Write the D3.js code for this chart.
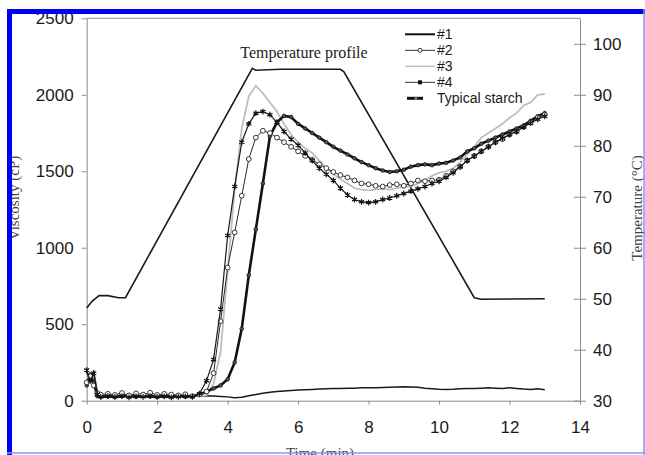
<!DOCTYPE html>
<html>
<head>
<meta charset="utf-8">
<script src="https://cdn.jsdelivr.net/npm/d3@7"></script>
<style>
body { margin: 0; background: #fff; }
svg { display: block; }
</style>
</head>
<body>
<svg id="chart" width="645" height="455"></svg>
<script>
// sample times (min) shared by the viscosity curves
var times = [0,0.1,0.2,0.3,0.4,
    0.6,0.8,1,1.2,1.4,1.6,1.8,2,2.2,2.4,2.6,2.8,3,
    3.2,3.4,3.6,3.8,4,4.2,4.4,4.6,4.8,5,
    5.2,5.4,5.6,5.8,6,6.2,6.4,6.6,6.8,7,
    7.2,7.4,7.6,7.8,8,8.2,8.4,8.6,8.8,9,
    9.2,9.4,9.6,9.8,10,10.2,10.4,10.6,10.8,11,
    11.2,11.4,11.6,11.8,12,12.2,12.4,12.6,12.8,13];

var visc1 = [180,150,190,60,35,
    30,32,30,28,30,32,30,28,30,30,28,30,30,
    30,32,30,28,25,20,22,32,40,48,
    55,60,64,67,70,72,74,76,78,80,
    80,82,82,84,85,84,86,88,90,92,
    90,88,82,78,75,74,75,78,80,80,
    82,84,82,80,85,80,76,74,78,72];

var visc2 = [120,160,100,50,40,
    45,38,50,35,48,40,52,38,45,40,35,42,30,
    40,60,180,520,870,1100,1340,1580,1720,1765,
    1750,1720,1690,1660,1630,1600,1575,1545,1520,1495,
    1475,1460,1440,1420,1415,1405,1400,1410,1415,1405,
    1420,1440,1435,1440,1445,1470,1500,1530,1570,1600,
    1630,1660,1690,1710,1740,1760,1790,1820,1850,1870];

var visc3 = [150,120,160,35,30,
    28,32,30,26,30,28,32,30,28,30,26,30,28,
    30,35,110,320,850,1380,1780,1990,2060,2010,
    1950,1890,1810,1740,1690,1650,1620,1570,1520,1480,
    1450,1420,1390,1380,1375,1380,1385,1380,1390,1400,
    1400,1420,1440,1470,1490,1500,1520,1560,1610,1660,
    1720,1750,1780,1810,1850,1880,1930,1950,2000,2005];

var visc4 = [200,130,180,40,25,
    30,25,30,22,28,25,30,25,28,22,25,28,25,
    45,130,270,600,1080,1400,1690,1810,1880,1890,
    1870,1820,1760,1710,1670,1620,1570,1520,1480,1440,
    1390,1345,1315,1300,1295,1300,1315,1325,1340,1355,
    1370,1385,1400,1420,1435,1460,1490,1530,1570,1600,
    1630,1660,1690,1715,1740,1760,1790,1815,1840,1860];

var viscStarch = [100,170,120,30,25,
    28,25,30,32,26,30,28,25,30,28,32,26,30,
    40,60,80,100,140,250,470,820,1120,1420,
    1730,1820,1862,1855,1810,1780,1750,1720,1690,1660,
    1635,1610,1585,1560,1540,1520,1505,1495,1500,1510,
    1530,1540,1545,1540,1550,1555,1570,1590,1630,1650,
    1680,1700,1720,1740,1760,1780,1800,1830,1860,1880];

// temperature profile (right axis)
var tempTimes = [0,0.15,0.35,0.6,0.9,1.1,4.7,4.8,5.5,7.2,7.3,11.0,11.2,13.0];
var tempValues = [48.2,49.5,50.6,50.6,50.2,50.2,95.2,94.8,95,95,94.5,50.2,49.9,50];

var xTicks = [0,2,4,6,8,10,12,14];
var viscTicks = [0,500,1000,1500,2000,2500];
var tempTicks = [30,40,50,60,70,80,90,100];
var legendNames = ['#1','#2','#3','#4','Typical starch'];

var svg = d3.select("#chart");
var plotLeft = 86.7, plotRight = 580, plotTop = 18.3, plotBottom = 400.7;

var x = d3.scaleLinear().domain([0,14]).range([plotLeft, plotRight]);
var yV = d3.scaleLinear().domain([0,2500]).range([plotBottom, plotTop]);
var yT = d3.scaleLinear().domain([30,105]).range([plotBottom, plotTop]);

svg.append("rect").attr("width", 645).attr("height", 455).attr("fill", "#fff");

// axes
var axisColor = "#8c8c8c";
function styleAxis(g) {
    g.selectAll("path, line").attr("stroke", axisColor).attr("stroke-width", 1);
    g.selectAll("text").attr("fill", "#1a1a1a")
        .style("font", "17px 'Liberation Sans', Arial, sans-serif");
}

svg.append("g")
    .attr("transform", `translate(${plotLeft},0)`)
    .call(d3.axisLeft(yV).tickValues(viscTicks).tickSize(5).tickSizeOuter(0).tickPadding(8).tickFormat(d3.format("d")))
    .call(styleAxis);

svg.append("g")
    .attr("transform", `translate(0,${plotBottom})`)
    .call(d3.axisBottom(x).tickValues(xTicks).tickSize(4).tickSizeOuter(0).tickPadding(16).tickFormat(d3.format("d")))
    .call(styleAxis);

var rAxis = svg.append("g")
    .attr("transform", `translate(${plotRight},0)`)
    .call(d3.axisRight(yT).tickValues(tempTicks).tickSize(6).tickSizeOuter(0).tickPadding(7).tickFormat(d3.format("d")))
    .call(styleAxis);
rAxis.selectAll(".tick line").attr("x1", -6);

// top border
svg.append("line")
    .attr("x1", plotLeft).attr("x2", plotRight).attr("y1", plotTop).attr("y2", plotTop)
    .attr("stroke", axisColor);

// axis titles
svg.append("text")
    .attr("transform", "translate(19,198) rotate(-90)")
    .attr("text-anchor", "middle")
    .attr("fill", "#444")
    .style("font", "15px 'Liberation Serif', 'Times New Roman', serif")
    .text("Viscosity (cP)");

svg.append("text")
    .attr("transform", "translate(642,208) rotate(-90)")
    .attr("text-anchor", "middle")
    .attr("fill", "#444")
    .style("font", "15px 'Liberation Serif', 'Times New Roman', serif")
    .text("Temperature (°C)");

svg.append("text")
    .attr("x", 320).attr("y", 458)
    .attr("text-anchor", "middle")
    .attr("fill", "#444")
    .style("font", "15px 'Liberation Serif', 'Times New Roman', serif")
    .text("Time (min)");

svg.append("text")
    .attr("x", 304).attr("y", 58)
    .attr("text-anchor", "middle")
    .attr("fill", "#222")
    .style("font", "16px 'Liberation Serif', 'Times New Roman', serif")
    .text("Temperature profile");

// lines
var viscLine = d3.line().x((d, i) => x(times[i])).y(d => yV(d));
var tempLine = d3.line().x((d, i) => x(tempTimes[i])).y(d => yT(d));

svg.append("path").datum(tempValues)
    .attr("d", tempLine).attr("fill", "none")
    .attr("stroke", "#1a1a1a").attr("stroke-width", 1.6);

svg.append("path").datum(visc1)
    .attr("d", viscLine).attr("fill", "none")
    .attr("stroke", "#1a1a1a").attr("stroke-width", 1.5);

svg.append("path").datum(visc3)
    .attr("d", viscLine).attr("fill", "none")
    .attr("stroke", "#bdbdbd").attr("stroke-width", 1.8);

svg.append("path").datum(viscStarch)
    .attr("d", viscLine).attr("fill", "none")
    .attr("stroke", "#111").attr("stroke-width", 2.6);
svg.append("g").selectAll("circle")
    .data(viscStarch).join("circle")
    .attr("cx", (d, i) => x(times[i])).attr("cy", d => yV(d))
    .attr("r", 1.8).attr("fill", "#555").attr("stroke", "#111").attr("stroke-width", 0.8);

svg.append("path").datum(visc2)
    .attr("d", viscLine).attr("fill", "none")
    .attr("stroke", "#2a2a2a").attr("stroke-width", 1);
svg.append("g").selectAll("circle")
    .data(visc2).join("circle")
    .attr("cx", (d, i) => x(times[i])).attr("cy", d => yV(d))
    .attr("r", 2.4).attr("fill", "#fff").attr("stroke", "#222").attr("stroke-width", 0.9);

svg.append("path").datum(visc4)
    .attr("d", viscLine).attr("fill", "none")
    .attr("stroke", "#1a1a1a").attr("stroke-width", 1.2);
svg.append("g").selectAll("path")
    .data(visc4).join("path")
    .attr("d", d3.symbol().type(d3.symbolAsterisk).size(24))
    .attr("transform", (d, i) => `translate(${x(times[i])},${yV(d)})`)
    .attr("fill", "none").attr("stroke", "#111").attr("stroke-width", 1.2);

// legend
var legend = svg.append("g");
var rowY = d3.scalePoint().domain(legendNames).range([34.3, 98.3]);
legendNames.forEach(function(name, i) {
    var y = rowY(name);
    var line = legend.append("line")
        .attr("x1", i == 4 ? 407 : 405).attr("x2", i == 4 ? 423 : 435)
        .attr("y1", y).attr("y2", y);
    if (i == 0) line.attr("stroke", "#111").attr("stroke-width", 2);
    if (i == 1) line.attr("stroke", "#333").attr("stroke-width", 1);
    if (i == 2) line.attr("stroke", "#c4c4c4").attr("stroke-width", 1.5);
    if (i == 3) line.attr("stroke", "#333").attr("stroke-width", 1);
    if (i == 4) line.attr("stroke", "#111").attr("stroke-width", 3);
    if (i == 1) legend.append("circle").attr("cx", 420).attr("cy", y).attr("r", 2)
        .attr("fill", "#fff").attr("stroke", "#222").attr("stroke-width", 0.9);
    if (i == 3) legend.append("rect").attr("x", 418).attr("y", y - 2).attr("width", 4).attr("height", 4)
        .attr("fill", "#111");
    if (i == 4) legend.append("circle").attr("cx", 416).attr("cy", y).attr("r", 1.6)
        .attr("fill", "#777");
    legend.append("text")
        .attr("x", 437).attr("y", y + 5)
        .attr("fill", "#1a1a1a")
        .style("font", "14px 'Liberation Sans', Arial, sans-serif")
        .text(name);
});

// blue frame
svg.append("rect").attr("x", 7).attr("y", 9).attr("width", 5).attr("height", 446).attr("fill", "#0000f5");
svg.append("rect").attr("x", 7).attr("y", 9).attr("width", 638).attr("height", 5).attr("fill", "#0000f5");
svg.append("line").attr("x1", 644).attr("x2", 644).attr("y1", 9).attr("y2", 455)
    .attr("stroke", "#8f8fff").attr("stroke-width", 1.5);
svg.append("line").attr("x1", 7).attr("x2", 645).attr("y1", 453).attr("y2", 453)
    .attr("stroke", "#8f8fff").attr("stroke-width", 1.5);
</script>
</body>
</html>
